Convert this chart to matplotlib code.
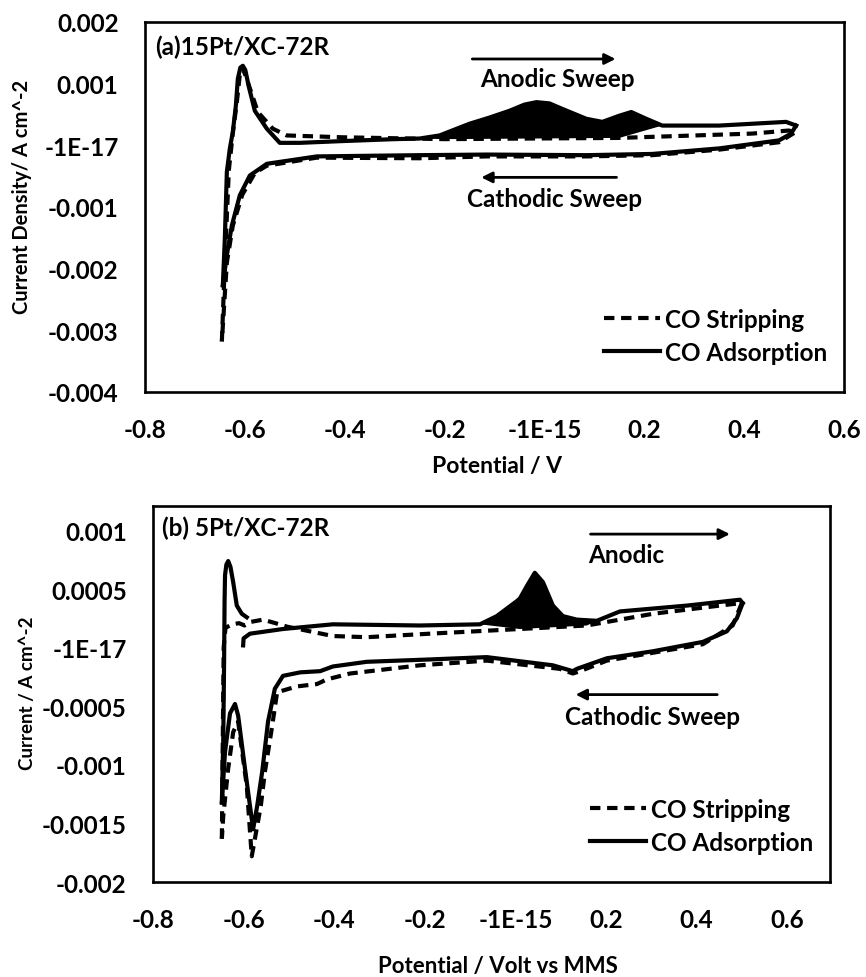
import numpy as np
import matplotlib
matplotlib.use("Agg")
import matplotlib.pyplot as plt
from matplotlib import font_manager

# pick a Calibri-like family that really has a bold face
family = 'DejaVu Sans'
for cand in ['Lato', 'Open Sans', 'Noto Sans', 'Roboto', 'Liberation Sans']:
    try:
        f = font_manager.findfont(font_manager.FontProperties(family=cand, weight='bold'),
                                  fallback_to_default=False)
    except Exception:
        continue
    if 'bold' in f.lower():
        family = cand
        break
plt.rcParams['font.family'] = [family, 'DejaVu Sans']

# ---- panel (a) 15Pt/XC-72R ----
# CO adsorption (solid), anodic then cathodic branch
a_ads_an_x = [-0.644, -0.640, -0.636, -0.630, -0.624, -0.618, -0.614, -0.609, -0.604, -0.599, -0.592, -0.580,
              -0.556, -0.530, -0.490, -0.400, -0.300, -0.250, -0.210, -0.150, -0.110, -0.070, -0.040, -0.016,
              0.010, 0.036, 0.084, 0.116, 0.150, 0.174, 0.204, 0.236, 0.350, 0.484, 0.504]
a_ads_an_y = [-0.00227, -0.00150, -0.00043, -0.00005, 0.00022, 0.00064, 0.00108, 0.00126, 0.00129, 0.00122,
              0.00095, 0.00056, 0.00027, 0.00004, 0.00004, 0.00007, 0.00010, 0.00011, 0.00016, 0.00035,
              0.00045, 0.00056, 0.00066, 0.00070, 0.00068, 0.00059, 0.00043, 0.00038, 0.00048, 0.00054,
              0.00043, 0.00032, 0.00032, 0.00038, 0.00032]
a_ads_ca_x = [0.504, 0.494, 0.470, 0.350, 0.216, 0.084, -0.116, -0.250, -0.456, -0.556, -0.590, -0.610,
              -0.626, -0.636, -0.644]
a_ads_ca_y = [0.00032, 0.00019, 0.00008, -0.00005, -0.00014, -0.00016, -0.00015, -0.00016, -0.00018,
              -0.00030, -0.00049, -0.00081, -0.00130, -0.00178, -0.00227]
# CO stripping (dashed)
a_str_an_x = [-0.646, -0.640, -0.632, -0.624, -0.616, -0.610, -0.605, -0.598, -0.574, -0.544, -0.516,
              -0.404, -0.200, 0.150, 0.416, 0.490, 0.500]
a_str_an_y = [-0.00318, -0.00190, -0.00040, 0.00020, 0.00070, 0.00115, 0.00126, 0.00112, 0.00054, 0.00027,
              0.00016, 0.00013, 0.00010, 0.00012, 0.00019, 0.00024, 0.00020]
a_str_ca_x = [0.500, 0.470, 0.350, 0.216, 0.084, -0.116, -0.250, -0.456, -0.556, -0.580, -0.605, -0.624,
              -0.636, -0.646]
a_str_ca_y = [0.00020, 0.00005, -0.00007, -0.00016, -0.00018, -0.00018, -0.00021, -0.00020, -0.00033,
              -0.00045, -0.00080, -0.00130, -0.00190, -0.00318]

# ---- panel (b) 5Pt/XC-72R ----
b_ads_an1_x = [-0.648, -0.645, -0.643, -0.642, -0.641, -0.638, -0.634, -0.629, -0.623, -0.615, -0.604, -0.593]
b_ads_an1_y = [-0.00132, -0.00080, -0.00010, 0.00040, 0.00062, 0.00071, 0.00074, 0.00069, 0.00056, 0.00036,
               0.00029, 0.00026]
b_ads_an2_x = [-0.601, -0.600, -0.586, -0.513, -0.403, -0.211, -0.078, -0.041, 0.004, 0.010, 0.026, 0.043,
               0.061, 0.083, 0.105, 0.136, 0.180, 0.231, 0.379, 0.496, 0.502]
b_ads_an2_y = [0.00002, 0.00008, 0.00012, 0.00016, 0.00020, 0.00019, 0.00020, 0.00027, 0.00040, 0.00042,
               0.00053, 0.00064, 0.00056, 0.00036, 0.00027, 0.00024, 0.00023, 0.00031, 0.00036, 0.00041, 0.00038]
b_ads_ca_x = [0.502, 0.489, 0.467, 0.414, 0.304, 0.202, 0.136, 0.127, 0.083, -0.063, -0.189, -0.328, -0.403,
              -0.431, -0.475, -0.513, -0.531, -0.546, -0.559, -0.570, -0.579, -0.597, -0.612, -0.619, -0.630,
              -0.641, -0.648]
b_ads_ca_y = [0.00038, 0.00025, 0.00014, 0.00005, -0.00003, -0.00009, -0.00018, -0.00020, -0.00015, -0.00008,
              -0.00010, -0.00012, -0.00016, -0.00020, -0.00021, -0.00024, -0.00035, -0.00063, -0.00106,
              -0.00135, -0.00155, -0.00103, -0.00058, -0.00048, -0.00056, -0.00089, -0.00132]
b_str_an_x = [-0.648, -0.646, -0.644, -0.640, -0.625, -0.610, -0.598, -0.585, -0.557, -0.530, -0.504, -0.403,
              -0.328, -0.189, 0.010, 0.158, 0.304, 0.452, 0.496, 0.500]
b_str_an_y = [-0.00163, -0.00080, 0.00000, 0.00017, 0.00020, 0.00021, 0.00019, 0.00022, 0.00024, 0.00021,
              0.00018, 0.00010, 0.00009, 0.00012, 0.00016, 0.00019, 0.00029, 0.00036, 0.00038, 0.00038]
b_str_ca_x = [0.500, 0.480, 0.414, 0.202, 0.143, 0.127, 0.098, -0.063, -0.211, -0.365, -0.416, -0.438, -0.482,
              -0.526, -0.537, -0.553, -0.562, -0.582, -0.593, -0.608, -0.612, -0.623, -0.634, -0.645, -0.648]
b_str_ca_y = [0.00038, 0.00019, 0.00003, -0.00011, -0.00020, -0.00022, -0.00018, -0.00011, -0.00015, -0.00022,
              -0.00027, -0.00031, -0.00033, -0.00038, -0.00067, -0.00106, -0.00135, -0.00178, -0.00118,
              -0.00075, -0.00063, -0.00072, -0.00103, -0.00144, -0.00163]

x_ticks = [-0.8, -0.6, -0.4, -0.2, 0.0, 0.2, 0.4, 0.6]
x_ticklabels = ['-0.8', '-0.6', '-0.4', '-0.2', '-1E-15', '0.2', '0.4', '0.6']
a_yticks = [-0.004, -0.003, -0.002, -0.001, 0.0, 0.001, 0.002]
a_yticklabels = ['-0.004', '-0.003', '-0.002', '-0.001', '-1E-17', '0.001', '0.002']
b_yticks = [-0.002, -0.0015, -0.001, -0.0005, 0.0, 0.0005, 0.001]
b_yticklabels = ['-0.002', '-0.0015', '-0.001', '-0.0005', '-1E-17', '0.0005', '0.001']

LW = 3.0
DASH = (0, (2.5, 1.6))
FS = 17.5


def style_axes(ax, yt, ytl):
    ax.set_xticks(x_ticks)
    ax.set_xticklabels(x_ticklabels, fontsize=FS, fontweight='bold')
    ax.set_yticks(yt)
    ax.set_yticklabels(ytl, fontsize=FS, fontweight='bold')
    ax.tick_params(axis='both', length=0)
    ax.tick_params(axis='y', pad=19)
    ax.tick_params(axis='x', pad=19)
    for s in ax.spines.values():
        s.set_linewidth(1.9)


def fill_peak(ax, sx, sy, dx, dy, lo, hi, lo2, hi2):
    sx, sy, dx, dy = map(np.asarray, (sx, sy, dx, dy))
    m1 = (sx >= lo) & (sx <= hi)
    m2 = (dx >= lo2) & (dx <= hi2)
    px = np.concatenate([sx[m1], dx[m2][::-1]])
    py = np.concatenate([sy[m1], dy[m2][::-1]])
    ax.fill(px, py, color='black', lw=0)


fig = plt.figure(figsize=(8.66, 9.78), dpi=100)

# ---------- top panel ----------
ax1 = fig.add_axes([0.1674, 0.5982, 0.8072, 0.3783])
ax1.plot(a_str_an_x, a_str_an_y, color='black', lw=LW, ls=DASH, label='CO Stripping')
ax1.plot(a_str_ca_x, a_str_ca_y, color='black', lw=LW, ls=DASH)
ax1.plot(a_ads_an_x, a_ads_an_y, color='black', lw=LW, label='CO Adsorption', solid_joinstyle='round')
ax1.plot(a_ads_ca_x, a_ads_ca_y, color='black', lw=LW, solid_joinstyle='round')
fill_peak(ax1, a_ads_an_x, a_ads_an_y, a_str_an_x, a_str_an_y, -0.25, 0.24, -0.25, 0.16)
ax1.set_xlim(-0.8, 0.6)
ax1.set_ylim(-0.004, 0.002)
style_axes(ax1, a_yticks, a_yticklabels)
ax1.text(0.014, 0.935, '(a)15Pt/XC-72R', transform=ax1.transAxes, fontsize=FS, fontweight='bold',
         va='center', ha='left')
ax1.annotate('', xy=(0.148, 0.0014), xytext=(-0.15, 0.0014),
             arrowprops=dict(arrowstyle='-|>', lw=2, color='black', mutation_scale=16))
ax1.text(0.026, 0.00108, 'Anodic Sweep', fontsize=FS, fontweight='bold', ha='center', va='center')
ax1.annotate('', xy=(-0.132, -0.00052), xytext=(0.15, -0.00052),
             arrowprops=dict(arrowstyle='-|>', lw=2, color='black', mutation_scale=16))
ax1.text(0.02, -0.00087, 'Cathodic Sweep', fontsize=FS, fontweight='bold', ha='center', va='center')
leg1 = ax1.legend(loc='lower right', bbox_to_anchor=(1.0, 0.03), frameon=False,
                  prop={'size': FS, 'weight': 'bold'}, handlelength=2.3, handletextpad=0.2,
                  labelspacing=0.42, borderaxespad=0.3)

# ---------- bottom panel ----------
ax2 = fig.add_axes([0.1767, 0.0971, 0.7818, 0.3845])
ax2.plot(b_str_an_x, b_str_an_y, color='black', lw=LW, ls=DASH, label='CO Stripping')
ax2.plot(b_str_ca_x, b_str_ca_y, color='black', lw=LW, ls=DASH)
ax2.plot(b_ads_an1_x, b_ads_an1_y, color='black', lw=LW, label='CO Adsorption', solid_joinstyle='round')
ax2.plot(b_ads_an2_x, b_ads_an2_y, color='black', lw=LW, solid_joinstyle='round')
ax2.plot(b_ads_ca_x, b_ads_ca_y, color='black', lw=LW, solid_joinstyle='round')
fill_peak(ax2, b_ads_an2_x, b_ads_an2_y, b_str_an_x, b_str_an_y, -0.08, 0.19, -0.01, 0.16)
ax2.set_xlim(-0.8, 0.695)
ax2.set_ylim(-0.002, 0.00121)
style_axes(ax2, b_yticks, b_yticklabels)
ax2.text(0.013, 0.944, '(b) 5Pt/XC-72R', transform=ax2.transAxes, fontsize=FS, fontweight='bold',
         va='center', ha='left')
ax2.annotate('', xy=(0.480, 0.00097), xytext=(0.160, 0.00097),
             arrowprops=dict(arrowstyle='-|>', lw=2, color='black', mutation_scale=16))
ax2.text(0.160, 0.0008, 'Anodic', fontsize=FS, fontweight='bold', ha='left', va='center')
ax2.annotate('', xy=(0.127, -0.0004), xytext=(0.452, -0.0004),
             arrowprops=dict(arrowstyle='-|>', lw=2, color='black', mutation_scale=16))
ax2.text(0.304, -0.00059, 'Cathodic Sweep', fontsize=FS, fontweight='bold', ha='center', va='center')
leg2 = ax2.legend(loc='lower right', bbox_to_anchor=(1.0, 0.03), frameon=False,
                  prop={'size': FS, 'weight': 'bold'}, handlelength=2.3, handletextpad=0.2,
                  labelspacing=0.42, borderaxespad=0.3)

# axis titles
fig.text(497 / 866, 1 - 467 / 978, 'Potential / V', fontsize=16.5, fontweight='bold', ha='center', va='center')
fig.text(22 / 866, 1 - 197 / 978, 'Current Density/ A cm^-2', fontsize=14.5, fontweight='bold',
         rotation=90, ha='center', va='center')
fig.text(498 / 866, 1 - 967 / 978, 'Potential / Volt vs MMS', fontsize=16, fontweight='bold',
         ha='center', va='center')
fig.text(28 / 866, 1 - 693 / 978, 'Current / A cm^-2', fontsize=13.5, fontweight='bold',
         rotation=90, ha='center', va='center')

fig.savefig('out.png', dpi=100)
